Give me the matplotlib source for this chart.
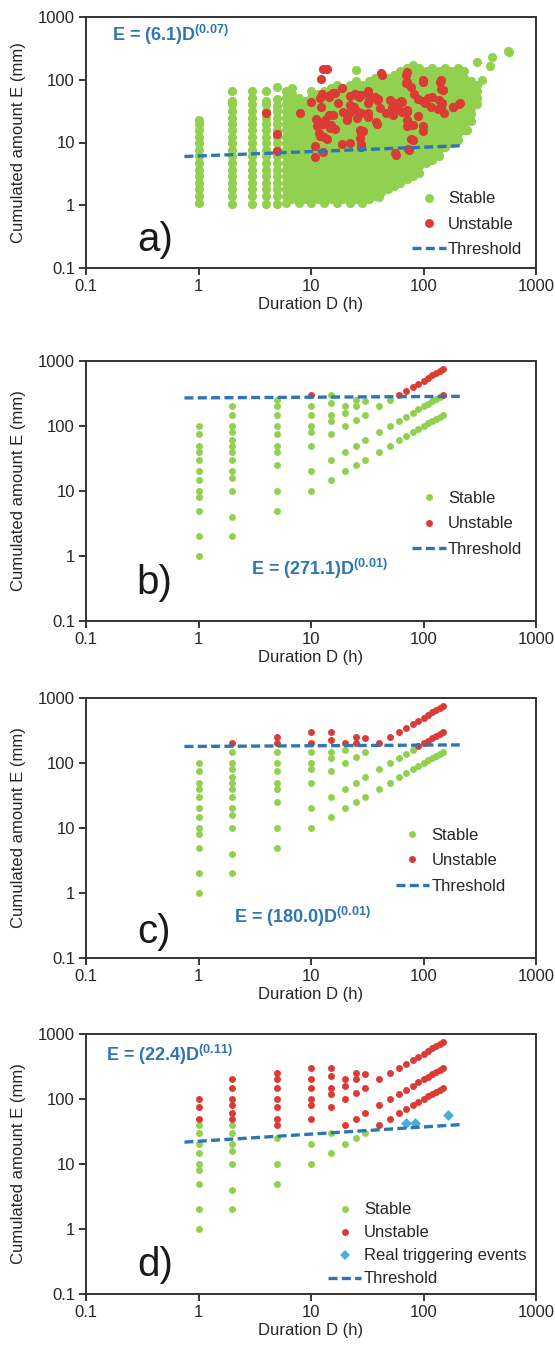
import matplotlib
matplotlib.use('Agg')
import matplotlib.pyplot as plt
from matplotlib.lines import Line2D
from matplotlib.ticker import FixedLocator, FixedFormatter, NullLocator

plt.rcParams['font.family'] = ['Liberation Sans', 'DejaVu Sans']
plt.rcParams['mathtext.fontset'] = 'custom'
plt.rcParams['mathtext.rm'] = 'Liberation Sans'
plt.rcParams['mathtext.bf'] = 'Liberation Sans:bold'
plt.rcParams['mathtext.it'] = 'Liberation Sans:italic'

GREEN = '#92D050'
RED = '#DC3A35'
BLUE = '#2E75B6'
CYAN = '#4BACDB'
TXT = '#262626'

tick_vals = [0.1, 1, 10, 100, 1000]
tick_labels = ['0.1', '1', '10', '100', '1000']

# ---------------- Panel a (dense cloud of real events) ----------------
a_col_D = [1, 2, 3, 4, 5]
a_col_E = [
    [1.1, 1.4, 1.8, 2.3, 2.9, 3.7, 4.7, 6.0, 7.6, 9.7, 12.3, 15.6, 19.8, 23],
    [1.05, 1.4, 1.8, 2.3, 2.9, 3.7, 4.7, 6.0, 7.6, 9.7, 12.3, 15.6, 19.8, 25, 32, 41, 46, 67],
    [1.05, 1.4, 1.8, 2.3, 2.9, 3.7, 4.7, 6.0, 7.6, 9.7, 12.3, 15.6, 19.8, 25, 32, 41, 52, 67],
    [1.05, 1.4, 1.8, 2.3, 2.9, 3.7, 4.7, 6.0, 7.6, 9.7, 12.3, 15.6, 19.8, 25, 32, 41, 46, 67],
    [1.05, 1.4, 1.8, 2.3, 2.9, 3.7, 4.7, 6.0, 7.6, 9.7, 12.3, 15.6, 19.8, 25, 32, 38, 50, 76],
]
a_cloud_D = [6, 6.8, 7.8, 8.9, 10.1, 11.5, 13.1, 15, 17, 19.4, 22, 25, 28.5, 32.5, 37,
             42, 48, 55, 62, 71, 81, 92, 105, 120, 136, 155, 177, 202, 230, 262, 298]
a_cloud_E = [
    [1.1, 1.4, 1.8, 2.3, 2.9, 3.7, 4.7, 6.0, 7.6, 9.7, 12.3, 15.6, 19.8, 25, 32, 41, 52, 66],
    [1.25, 1.6, 2.0, 2.6, 3.3, 4.2, 5.3, 6.7, 8.6, 11, 14, 17.6, 22.3, 28, 36, 46, 59, 75],
    [1.1, 1.4, 1.8, 2.3, 2.9, 3.7, 4.7, 6.0, 7.6, 9.7, 12.3, 15.6, 19.8, 25, 32, 41, 52],
    [1.25, 1.6, 2.0, 2.6, 3.3, 4.2, 5.3, 6.7, 8.6, 11, 14, 17.6, 22.3, 28, 36, 46],
    [1.1, 1.4, 1.8, 2.3, 2.9, 3.7, 4.7, 6.0, 7.6, 9.7, 12.3, 15.6, 19.8, 25, 32, 41, 52, 66],
    [1.25, 1.6, 2.0, 2.6, 3.3, 4.2, 5.3, 6.7, 8.6, 11, 14, 17.6, 22.3, 28, 36, 46, 59],
    [1.1, 1.4, 1.8, 2.3, 2.9, 3.7, 4.7, 6.0, 7.6, 9.7, 12.3, 15.6, 19.8, 25, 32, 41, 52, 66],
    [1.25, 1.6, 2.0, 2.6, 3.3, 4.2, 5.3, 6.7, 8.6, 11, 14, 17.6, 22.3, 28, 36, 46, 59, 75],
    [1.1, 1.4, 1.8, 2.3, 2.9, 3.7, 4.7, 6.0, 7.6, 9.7, 12.3, 15.6, 19.8, 25, 32, 41, 52, 66, 84],
    [1.25, 1.6, 2.0, 2.6, 3.3, 4.2, 5.3, 6.7, 8.6, 11, 14, 17.6, 22.3, 28, 36, 46, 59, 75],
    [1.1, 1.4, 1.8, 2.3, 2.9, 3.7, 4.7, 6.0, 7.6, 9.7, 12.3, 15.6, 19.8, 25, 32, 41, 52, 66, 84],
    [1.25, 1.6, 2.0, 2.6, 3.3, 4.2, 5.3, 6.7, 8.6, 11, 14, 17.6, 22.3, 28, 36, 46, 59, 75, 95, 143],
    [1.1, 1.4, 1.8, 2.3, 2.9, 3.7, 4.7, 6.0, 7.6, 9.7, 12.3, 15.6, 19.8, 25, 32, 41, 52, 66, 84],
    [1.25, 1.6, 2.0, 2.6, 3.3, 4.2, 5.3, 6.7, 8.6, 11, 14, 17.6, 22.3, 28, 36, 46, 59, 75, 95],
    [1.4, 1.8, 2.3, 2.9, 3.7, 4.7, 6.0, 7.6, 9.7, 12.3, 15.6, 19.8, 25, 32, 41, 52, 66, 84, 107],
    [1.6, 2.0, 2.6, 3.3, 4.2, 5.3, 6.7, 8.6, 11, 14, 17.6, 22.3, 28, 36, 46, 59, 75, 95],
    [1.8, 2.3, 2.9, 3.7, 4.7, 6.0, 7.6, 9.7, 12.3, 15.6, 19.8, 25, 32, 41, 52, 66, 84, 107],
    [2.0, 2.6, 3.3, 4.2, 5.3, 6.7, 8.6, 11, 14, 17.6, 22.3, 28, 36, 46, 59, 75, 95, 121],
    [2.3, 2.9, 3.7, 4.7, 6.0, 7.6, 9.7, 12.3, 15.6, 19.8, 25, 32, 41, 52, 66, 84, 107, 136],
    [2.6, 3.3, 4.2, 5.3, 6.7, 8.6, 11, 14, 17.6, 22.3, 28, 36, 46, 59, 75, 95, 121, 154],
    [2.9, 3.7, 4.7, 6.0, 7.6, 9.7, 12.3, 15.6, 19.8, 25, 32, 41, 52, 66, 84, 107, 136, 173],
    [3.3, 4.2, 5.3, 6.7, 8.6, 11, 14, 17.6, 22.3, 28, 36, 46, 59, 75, 95, 121, 154],
    [4.7, 6.0, 7.6, 9.7, 12.3, 15.6, 19.8, 25, 32, 41, 52, 66, 84, 107, 136],
    [5.3, 6.7, 8.6, 11, 14, 17.6, 22.3, 28, 36, 46, 59, 75, 95, 121, 154],
    [6.0, 7.6, 9.7, 12.3, 15.6, 19.8, 25, 32, 41, 52, 66, 84, 107, 136],
    [8.6, 11, 14, 17.6, 22.3, 28, 36, 46, 59, 75, 95, 121, 154],
    [9.7, 12.3, 15.6, 19.8, 25, 32, 41, 52, 66, 84, 107, 136],
    [11, 14, 17.6, 22.3, 28, 36, 46, 59, 75, 95, 121, 154],
    [15.6, 19.8, 25, 32, 41, 52, 66, 84, 107, 136],
    [22.3, 28, 36, 46, 59, 75, 95],
    [41, 52, 66, 84],
]
a_out_D = [33, 40, 245, 300, 330, 390, 410, 560, 580]
a_out_E = [1.4, 1.36, 15.7, 195, 99, 165, 230, 290, 280]

a_uns_D = [4.0, 5.0, 5.0, 8, 10, 12.2, 12.8, 14, 10.9, 10.9, 12.8, 12.4, 12.8, 14.6, 15, 11.7, 13,
           14.4, 15.6, 12.2, 18.8, 18.8, 21.7, 21, 24, 24.8, 26.9, 28, 28, 32, 33, 32, 38.6, 41.5,
           43, 38.6, 37, 46, 50, 57, 57.6, 64, 72, 72, 72, 77, 74, 80, 80, 82, 99, 103, 119, 137,
           142, 148, 153, 142, 184, 211, 99, 54, 89,
           11, 11.2, 13.3, 14.7, 12, 13.8, 16.3, 15.8, 17.5, 19.4, 20.8, 22.2, 22, 25.4, 25.4, 22.2,
           12, 14.7, 16.3,
           70, 70, 139, 143, 26, 28, 32, 32, 39.5, 40.7, 26, 28, 32, 38, 27, 29, 27, 28, 52, 59, 55,
           63, 65, 72, 72, 72, 89, 99, 109, 117, 134, 146, 182, 208, 99, 78, 73, 56, 99]
a_uns_E = [29, 13.5, 7.4, 29, 44, 101, 146, 148, 8.8, 5.9, 7.1, 60, 20, 27, 19, 14, 12.3,
           53, 61, 37, 9.4, 75, 29, 24, 37, 60, 53, 14.8, 8.5, 61, 47, 29, 20, 126,
           119, 47, 53, 29, 47, 6.3, 42, 44.5, 33, 93, 134, 77, 7.5, 19, 10.9, 60, 99, 42, 53, 47,
           99, 68, 29, 37, 37, 42, 18, 27, 26,
           24, 18, 23, 17, 12.7, 11.3, 16.5, 27, 43, 31, 23, 39, 55, 58, 25, 10,
           52, 58, 62,
           118, 88, 93, 70, 58, 58, 66, 43, 49, 36, 30.5, 29, 25.6, 21, 16, 15, 12, 9.5, 36.5, 34, 43,
           46, 30.5, 30.5, 23, 18, 49, 46, 51, 36.5, 34, 43, 36.5, 41, 15, 11.3, 7.9, 6.7, 93]

# ---------------- Panels b, c, d (synthetic scenario grid) ----------------
grid_D = ([1] * 12 + [2] * 13 + [5] * 10 + [10] * 8 + [15] * 7 + [20] * 5 + [25] * 5 + [30] * 4
          + [40] * 3 + [50] * 3 + [60] * 3 + [70] * 3 + [80] * 3 + [90] * 3 + [100] * 3
          + [110] * 3 + [120] * 3 + [130] * 3 + [140] * 3 + [150] * 3)
grid_E = ([1, 2, 5, 8, 10, 15, 20, 30, 40, 50, 75, 100]
          + [2, 4, 10, 16, 20, 30, 40, 50, 60, 80, 100, 150, 200]
          + [5, 10, 25, 40, 50, 75, 100, 150, 200, 250]
          + [10, 20, 50, 80, 100, 150, 200, 300]
          + [15, 30, 75, 120, 150, 225, 300]
          + [20, 40, 100, 160, 200]
          + [25, 50, 125, 200, 250]
          + [30, 60, 150, 240]
          + [40, 80, 200] + [50, 100, 250] + [60, 120, 300] + [70, 140, 350] + [80, 160, 400]
          + [90, 180, 450] + [100, 200, 500] + [110, 220, 550] + [120, 240, 600]
          + [130, 260, 650] + [140, 280, 700] + [150, 300, 750])

b_unstable = [(10, 300), (60, 300), (70, 350), (80, 400), (90, 450), (100, 500), (110, 550),
              (120, 600), (130, 650), (140, 700), (150, 750), (150, 300)]
c_unstable = [(2, 200), (5, 200), (5, 250), (10, 200), (10, 300), (15, 225), (15, 300), (20, 200),
              (25, 200), (25, 250), (30, 240), (40, 200), (50, 250), (60, 300), (70, 350),
              (80, 400), (90, 450), (100, 500), (110, 550), (120, 600), (130, 650), (140, 700),
              (150, 750), (90, 180), (100, 200), (110, 220), (120, 240), (130, 260), (140, 280),
              (150, 300)]
d_stable = [(1, 1), (1, 2), (1, 5), (1, 8), (1, 10), (1, 15), (1, 20), (1, 30), (1, 40),
            (2, 2), (2, 4), (2, 10), (2, 16), (2, 20), (2, 30), (2, 40),
            (5, 5), (5, 10), (5, 25), (10, 10), (10, 20), (15, 15), (15, 30),
            (20, 20), (25, 25), (30, 30)]
d_real_D = [70, 84, 164]
d_real_E = [42, 42, 57]

# threshold endpoints (D from 0.75 to 210)
thr_D = [0.75, 210]
thr_E = {'a': [5.98, 8.87], 'b': [270.3, 286.0], 'c': [179.5, 189.8], 'd': [21.7, 40.3]}
eq_text = {'a': r'E = (6.1)D$^{\mathbf{(0.07)}}$',
           'b': r'E = (271.1)D$^{\mathbf{(0.01)}}$',
           'c': r'E = (180.0)D$^{\mathbf{(0.01)}}$',
           'd': r'E = (22.4)D$^{\mathbf{(0.11)}}$'}
eq_pos = {'a': (0.057, 0.928), 'b': (0.367, 0.20), 'c': (0.328, 0.157), 'd': (0.045, 0.92)}
lab_pos = {'a': 0.11, 'b': 0.146, 'c': 0.10, 'd': 0.11}
leg_pos = {'a': (0.725, 0.305), 'b': (0.725, 0.50), 'c': (0.688, 0.50), 'd': (0.538, 0.352)}
leg_space = {'a': 0.62, 'b': 0.62, 'c': 0.62, 'd': 0.48}

W, H = 555, 1347
fig = plt.figure(figsize=(W / 100, H / 100), dpi=100)
ax_left, ax_w = 86, 450
tops = {'a': 17, 'b': 361, 'c': 698, 'd': 1034}
heights = {'a': 251, 'b': 260, 'c': 260, 'd': 260}

THR_LS = (0, (2.7, 1.3))


def style_axes(ax, h):
    ax.set_xscale('log')
    ax.set_yscale('log')
    ax.set_xlim(0.1, 1000)
    ax.set_ylim(0.1, 1000)
    for axis in (ax.xaxis, ax.yaxis):
        axis.set_major_locator(FixedLocator(tick_vals))
        axis.set_major_formatter(FixedFormatter(tick_labels))
        axis.set_minor_locator(NullLocator())
    ax.tick_params(axis='both', which='major', direction='out', length=5, width=1.3,
                   labelsize=12, colors=TXT, pad=3)
    for sp in ax.spines.values():
        sp.set_color('#333333')
        sp.set_linewidth(1.4)
    ax.set_xlabel('Duration D (h)', fontsize=12, color=TXT)
    ax.set_ylabel('Cumulated amount E (mm)', fontsize=12, color=TXT)
    ax.xaxis.set_label_coords(0.5, -29.0 / h)
    ax.yaxis.set_label_coords(-0.133, 0.5)


axes = {}
for key in ['a', 'b', 'c', 'd']:
    top, h = tops[key], heights[key]
    ax = fig.add_axes([ax_left / W, 1 - (top + h) / H, ax_w / W, h / H])
    style_axes(ax, h)
    axes[key] = ax

# panel a
ax = axes['a']
sA = 6.6 ** 2
for d, es in zip(a_col_D, a_col_E):
    ax.scatter([d] * len(es), es, s=sA, color=GREEN, linewidths=0, zorder=2)
for d, es in zip(a_cloud_D, a_cloud_E):
    ax.scatter([d] * len(es), es, s=sA, color=GREEN, linewidths=0, zorder=2)
ax.scatter(a_out_D, a_out_E, s=sA, color=GREEN, linewidths=0, zorder=2)
ax.scatter(a_uns_D, a_uns_E, s=sA, color=RED, linewidths=0, zorder=3)

# panels b, c, d
sB = 5.0 ** 2
for key in ['b', 'c', 'd']:
    ax = axes[key]
    st_D, st_E, un_D, un_E = [], [], [], []
    for d, e in zip(grid_D, grid_E):
        if key == 'b':
            uns = (d, e) in b_unstable
        elif key == 'c':
            uns = (d, e) in c_unstable
        else:
            uns = (d, e) not in d_stable
        if uns:
            un_D.append(d); un_E.append(e)
        else:
            st_D.append(d); st_E.append(e)
    ax.scatter(st_D, st_E, s=sB, color=GREEN, linewidths=0, zorder=2)
    ax.scatter(un_D, un_E, s=sB, color=RED, linewidths=0, zorder=3)
    if key == 'd':
        ax.scatter(d_real_D, d_real_E, s=5.5 ** 2, marker='D', color=CYAN, linewidths=0, zorder=4)

for key in ['a', 'b', 'c', 'd']:
    ax = axes[key]
    ax.plot(thr_D, thr_E[key], color=BLUE, lw=2.4, linestyle=THR_LS, zorder=5,
            solid_capstyle='butt', dash_capstyle='butt')
    ax.text(eq_pos[key][0], eq_pos[key][1], eq_text[key], transform=ax.transAxes,
            color=BLUE, fontsize=13, fontweight='bold', ha='left', va='center', zorder=6)
    ax.text(0.113, lab_pos[key], key + ')', transform=ax.transAxes, fontsize=29,
            color='#1a1a1a', ha='left', va='center')
    ms = 6.4 if key == 'a' else 5.0
    handles = [Line2D([], [], marker='o', linestyle='none', markersize=ms, color=GREEN,
                      markeredgewidth=0),
               Line2D([], [], marker='o', linestyle='none', markersize=ms, color=RED,
                      markeredgewidth=0)]
    labels = ['Stable', 'Unstable']
    if key == 'd':
        handles.append(Line2D([], [], marker='D', linestyle='none', markersize=5.5, color=CYAN,
                              markeredgewidth=0))
        labels.append('Real triggering events')
    handles.append(Line2D([], [], color=BLUE, lw=2.4, linestyle=THR_LS))
    labels.append('Threshold')
    leg = ax.legend(handles, labels, loc='upper left', bbox_to_anchor=leg_pos[key],
                    frameon=False, fontsize=12, handlelength=2.0, handletextpad=0.15,
                    labelspacing=leg_space[key], borderpad=0, borderaxespad=0)
    for t in leg.get_texts():
        t.set_color(TXT)

fig.savefig('out.png', dpi=100)
